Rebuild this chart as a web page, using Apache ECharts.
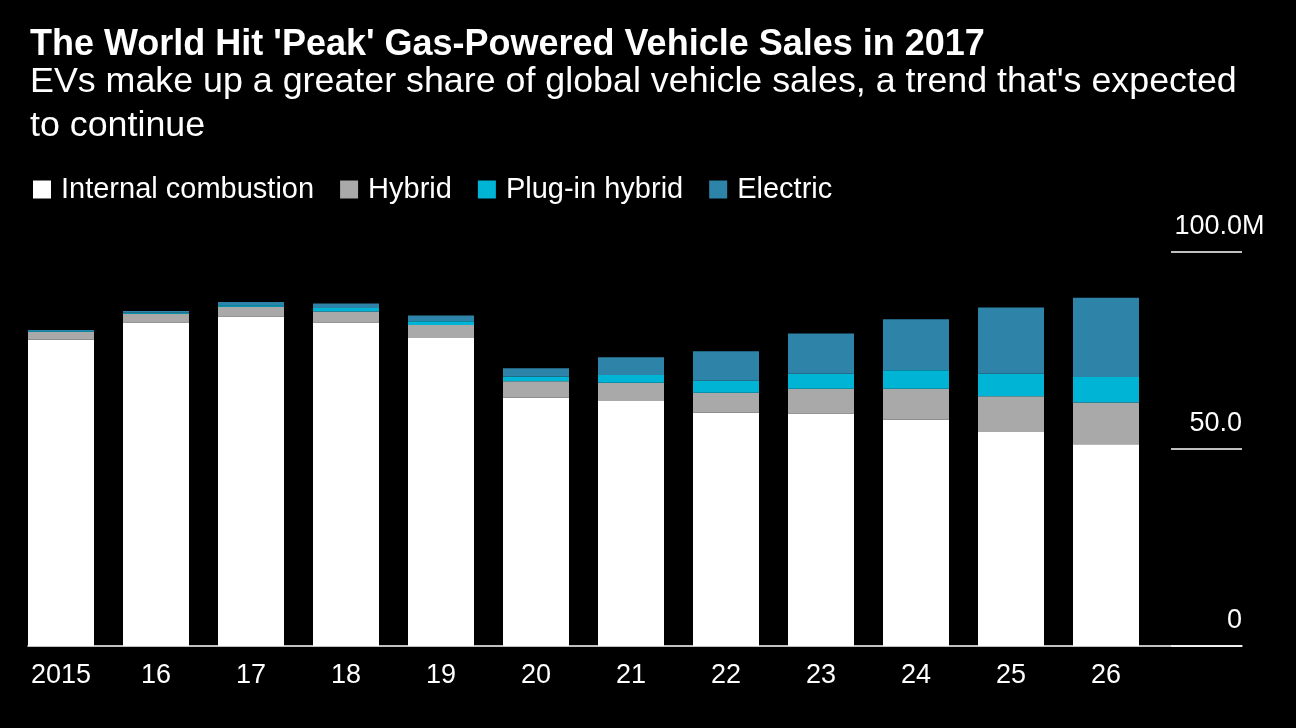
<!DOCTYPE html>
<html>
<head>
<meta charset="utf-8">
<script src="https://cdn.jsdelivr.net/npm/echarts@6/dist/echarts.min.js"></script>
<style>
html,body{margin:0;padding:0;background:#000;}
#chart{width:1296px;height:728px;}
</style>
</head>
<body>
<div id="chart"></div>
<script>
const categories = ['2015','16','17','18','19','20','21','22','23','24','25','26'];
const internalCombustion = [77.7, 82.1, 83.6, 82.1, 78.2, 63.0, 62.2, 59.2, 59.0, 57.4, 54.3, 51.2];
const hybrid = [2.0, 2.2, 2.5, 2.8, 3.3, 4.2, 4.6, 5.1, 6.3, 7.9, 9.1, 10.6];
const plugInHybrid = [0.2, 0.3, 0.4, 0.9, 0.9, 1.2, 2.0, 3.0, 3.8, 4.7, 5.7, 6.5];
const electric = [0.3, 0.4, 0.8, 1.1, 1.5, 2.1, 4.5, 7.5, 10.2, 12.9, 16.8, 20.1];
const yTicks = [0, 50, 100];

const FONT = '"Liberation Sans", Arial, sans-serif';
const chart = echarts.init(document.getElementById('chart'));

const colors = {
  'Internal combustion': '#ffffff',
  'Hybrid': '#a9a9a9',
  'Plug-in hybrid': '#00b4d5',
  'Electric': '#2d84a8'
};
function barSeries(name, data) {
  return {
    name: name, type: 'bar', stack: 'total', data: data,
    xAxisIndex: 0, yAxisIndex: 0,
    barWidth: 66,
    itemStyle: { color: colors[name] },
    emphasis: { disabled: true }
  };
}

const option = {
  backgroundColor: '#000000',
  animation: false,
  title: [
    {
      text: "The World Hit 'Peak' Gas-Powered Vehicle Sales in 2017",
      left: 30, top: 23, padding: 0,
      textStyle: { color: '#fff', fontFamily: FONT, fontWeight: 'bold', fontSize: 36, lineHeight: 44 }
    },
    {
      text: "EVs make up a greater share of global vehicle sales, a trend that's expected\nto continue",
      left: 30, top: 60, padding: 0,
      textStyle: { color: '#fff', fontFamily: FONT, fontWeight: 'normal', fontSize: 35.8, lineHeight: 44 }
    }
  ],
  legend: {
    left: 33, top: 175, padding: 0,
    icon: 'rect', itemWidth: 18, itemHeight: 18, itemGap: 26,
    selectedMode: false,
    textStyle: { color: '#fff', fontFamily: FONT, fontSize: 29, padding: [0, 0, 0, 5] },
    data: ['Internal combustion', 'Hybrid', 'Plug-in hybrid', 'Electric']
  },
  grid: [
    { left: 13.5, right: 142.5, top: 252, bottom: 82 },
    { left: 28, right: 54, top: 252, bottom: 82 },
    { left: 1171, right: 54, top: 252, bottom: 82 }
  ],
  xAxis: [
    {
      type: 'category', gridIndex: 0, data: categories,
      axisLine: { show: false }, axisTick: { show: false },
      axisLabel: { color: '#fff', fontFamily: FONT, fontSize: 27, margin: 16 }
    },
    {
      type: 'value', gridIndex: 1, min: 0, max: 1,
      axisLine: { show: true, onZero: false, lineStyle: { color: '#fff', width: 1.5 } },
      axisTick: { show: false }, axisLabel: { show: false }, splitLine: { show: false }
    },
    {
      type: 'value', gridIndex: 2, min: 0, max: 1, show: false
    }
  ],
  yAxis: [
    { type: 'value', gridIndex: 0, min: 0, max: 100, show: false },
    { type: 'value', gridIndex: 1, min: 0, max: 100, show: false },
    {
      type: 'value', gridIndex: 2, position: 'right', min: yTicks[0], max: yTicks[2], interval: 50,
      name: 'M', nameLocation: 'end', nameGap: 0, nameMoveOverlap: false,
      nameTextStyle: { color: '#fff', fontFamily: FONT, fontSize: 27, align: 'left', verticalAlign: 'bottom', padding: [0, 0, 12, 0] },
      axisLine: { show: false, onZero: false }, axisTick: { show: false },
      splitLine: { show: true, lineStyle: { color: '#fff', width: 1.5 } },
      axisLabel: {
        inside: true, margin: 0, color: '#fff', fontFamily: FONT, fontSize: 27,
        verticalAlign: 'bottom', padding: [0, 0, 12, 0],
        formatter: function (v) { return v === 0 ? '0' : v.toFixed(1); }
      }
    }
  ],
  series: [
    barSeries('Internal combustion', internalCombustion),
    barSeries('Hybrid', hybrid),
    barSeries('Plug-in hybrid', plugInHybrid),
    barSeries('Electric', electric)
  ]
};
chart.setOption(option);
</script>
</body>
</html>
